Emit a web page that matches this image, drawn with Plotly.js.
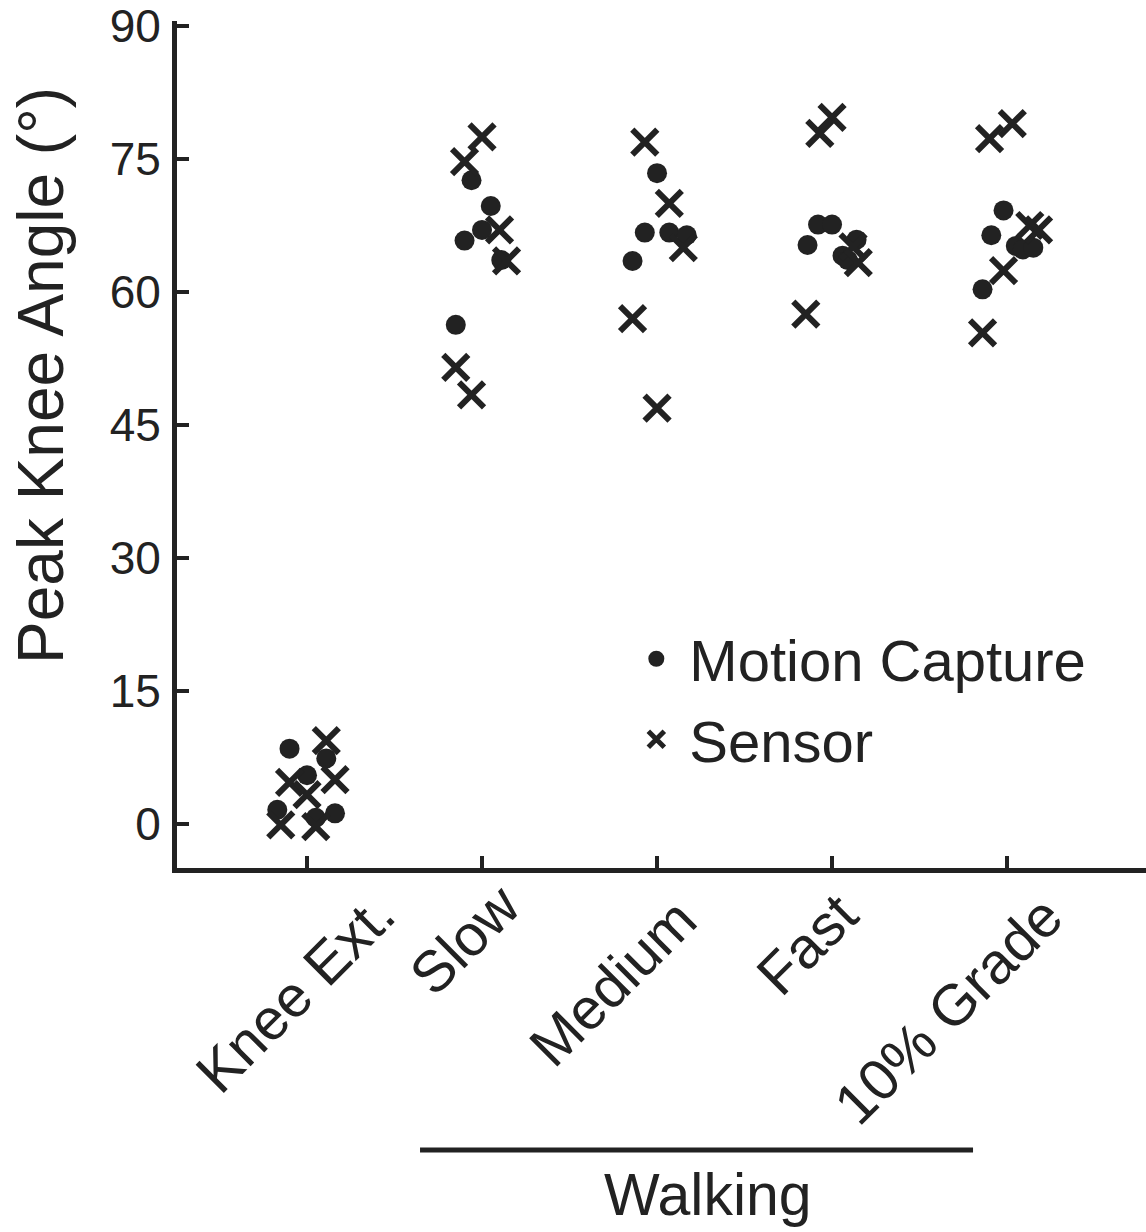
<!DOCTYPE html>
<html>
<head>
<meta charset="utf-8">
<script src="https://cdn.plot.ly/plotly-3.0.1.min.js"></script>
<style>
  html, body { margin: 0; padding: 0; background: #ffffff; }
  #chart { width: 1146px; height: 1232px; }
</style>
</head>
<body>
<div id="chart"></div>
<script>
// ---- Data ----
const categories = ['Knee Ext.', 'Slow', 'Medium', 'Fast', '10% Grade'];
const groupTitle = 'Walking';
const yTicks = [0, 15, 30, 45, 60, 75, 90];

// Motion Capture: category index, horizontal jitter (category units), peak knee angle (deg)
const mocapGroup  = [0, 0, 0, 0, 0, 0,   1, 1, 1, 1, 1, 1,   2, 2, 2, 2, 2,   3, 3, 3, 3, 3, 3,   4, 4, 4, 4, 4, 4];
const mocapJitter = [-0.10, 0.00, 0.11, -0.17, 0.05, 0.16,
                     -0.06, 0.05, 0.00, -0.10, 0.11, -0.15,
                      0.00, -0.07, -0.14, 0.07, 0.17,
                     -0.14, -0.08, 0.00, 0.14, 0.06, 0.09,
                     -0.02, -0.09, -0.14, 0.05, 0.09, 0.15];
const mocapAngle  = [8.5, 5.5, 7.4, 1.6, 0.7, 1.2,
                     72.6, 69.7, 67.0, 65.8, 63.6, 56.3,
                     73.4, 66.7, 63.5, 66.7, 66.4,
                     65.3, 67.6, 67.6, 65.9, 64.1, 63.6,
                     69.2, 66.4, 60.3, 65.2, 64.8, 65.0];

// Sensor
const sensorGroup  = [0, 0, 0, 0, 0, 0,   1, 1, 1, 1, 1, 1,   2, 2, 2, 2, 2,   3, 3, 3, 3, 3,   4, 4, 4, 4, 4, 4];
const sensorJitter = [0.11, -0.10, 0.00, 0.16, -0.15, 0.05,
                      0.00, -0.10, 0.10, 0.14, -0.15, -0.06,
                     -0.07, 0.07, 0.15, -0.14, 0.00,
                      0.00, -0.07, 0.12, 0.15, -0.15,
                      0.03, -0.10, -0.02, 0.13, 0.18, -0.14];
const sensorAngle  = [9.4, 4.7, 3.3, 5.0, -0.1, -0.3,
                      77.5, 74.7, 67.0, 63.5, 51.5, 48.4,
                      76.9, 70.0, 65.0, 57.0, 46.9,
                      79.7, 77.9, 65.1, 63.3, 57.5,
                      79.0, 77.3, 62.4, 67.5, 67.0, 55.4];

// ---- Styling / layout helpers (not data) ----
const INK = '#222222';
const FONT = '"Liberation Sans", Arial, Helvetica, sans-serif';
// pixel offsets of each rotated category label centre from its tick (reference placement)
const labelShiftX = [-13, -18, -45, -26, -60];
const labelShiftY = [-125, -71, -114, -76, -142];

const mocapX  = mocapGroup.map((g, i) => g + mocapJitter[i]);
const sensorX = sensorGroup.map((g, i) => g + sensorJitter[i]);

const traces = [
  {
    type: 'scatter', mode: 'markers', name: 'Motion Capture',
    x: mocapX, y: mocapAngle, legendgroup: 'a',
    marker: { symbol: 'circle', size: 20, color: INK, line: { width: 0 } },
    cliponaxis: false
  },
  {
    type: 'scatter', mode: 'markers', name: 'Sensor',
    x: sensorX, y: sensorAngle, legendgroup: 'b',
    marker: { symbol: 'x-thin-open', size: 25, color: INK, line: { width: 6, color: INK } },
    cliponaxis: false
  }
];

const categoryLabels = categories.map((c, i) => ({
  xref: 'x', yref: 'paper', x: i, y: 0, xshift: labelShiftX[i], yshift: labelShiftY[i],
  text: c, textangle: -45, showarrow: false, xanchor: 'center', yanchor: 'middle',
  font: { size: 58, family: FONT, color: INK }
}));

const layout = {
  width: 1146, height: 1232,
  margin: { l: 177, r: 0, t: 21, b: 364, pad: 0 },
  paper_bgcolor: '#ffffff', plot_bgcolor: '#ffffff',
  font: { family: FONT, color: INK },
  showlegend: true,
  legend: {
    x: 0.4606, y: 0.2992, xanchor: 'left', yanchor: 'top',
    font: { size: 58, family: FONT, color: INK },
    bgcolor: 'rgba(0,0,0,0)', itemsizing: 'trace', tracegroupgap: 2, itemwidth: 56
  },
  xaxis: {
    range: [-0.743, 4.794],
    tickmode: 'array', tickvals: categories.map((c, i) => i), ticktext: categories,
    showticklabels: false,
    ticks: 'inside', ticklen: 12, tickwidth: 4, tickcolor: INK,
    showline: true, linewidth: 5, linecolor: INK,
    showgrid: false, zeroline: false
  },
  yaxis: {
    range: [-4.962, 90.564],
    tickmode: 'array', tickvals: yTicks, ticktext: yTicks.map(String),
    ticks: 'inside', ticklen: 12, tickwidth: 4, tickcolor: INK,
    showline: true, linewidth: 5, linecolor: INK,
    showgrid: false, zeroline: false,
    tickfont: { size: 46, family: FONT, color: INK },
    ticklabelstandoff: 2, ticklabeloverflow: 'allow'
  },
  shapes: [
    { type: 'line', xref: 'paper', yref: 'paper', x0: 0.2508, x1: 0.8215, y0: -0.3329, y1: -0.3329,
      line: { color: INK, width: 5 } }
  ],
  annotations: categoryLabels.concat([
    { xref: 'paper', yref: 'paper', x: 0.548, y: -0.3861, text: groupTitle, showarrow: false,
      xanchor: 'center', yanchor: 'middle', font: { size: 59, family: FONT, color: INK } },
    { xref: 'paper', yref: 'paper', x: 0, xshift: -136, y: 0.5809, text: 'Peak Knee Angle (°)',
      textangle: -90, showarrow: false, xanchor: 'center', yanchor: 'middle',
      font: { size: 64, family: FONT, color: INK } }
  ])
};

Plotly.newPlot('chart', traces, layout, { displayModeBar: false, staticPlot: true });
</script>
</body>
</html>
